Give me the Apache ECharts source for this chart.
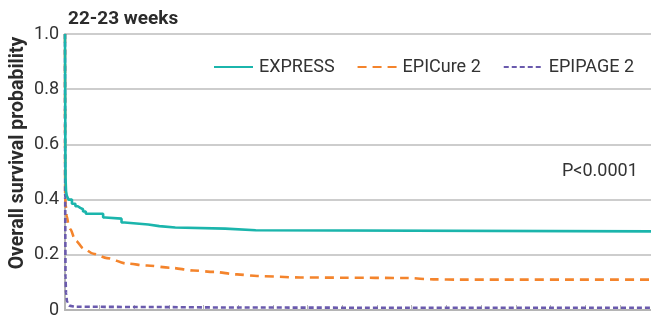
<!DOCTYPE html>
<html>
<head>
<meta charset="utf-8">
<script src="https://cdn.jsdelivr.net/npm/echarts@6/dist/echarts.min.js"></script>
<style>html,body{margin:0;padding:0;background:#fff}#c{width:651px;height:319px}</style>
</head>
<body>
<div id="c"></div>
<script>
var seriesNames = ['EXPRESS', 'EPICure 2', 'EPIPAGE 2'];
var yTicks = [0, 0.2, 0.4, 0.6, 0.8, 1.0];
var expressPts = [[0,1.0],[0.005,0.8],[0.01,0.6],[0.015,0.48],[0.03,0.43],[0.05,0.415],[0.1,0.40],[0.2,0.385],[0.3,0.376],[0.37,0.37],[0.44,0.365],[0.52,0.357],[0.6,0.349],[1.1,0.335],[1.16,0.331],[1.63,0.317],[1.72,0.310],[2.4,0.304],[2.72,0.299],[3.18,0.295],[4.62,0.289],[5.5,0.285],[16.9,0.285]];
var epicurePts = [[0,1.0],[0.005,0.41],[0.02,0.38],[0.05,0.34],[0.1,0.31],[0.15,0.294],[0.3,0.252],[0.54,0.222],[0.82,0.204],[1.21,0.188],[1.79,0.168],[2.37,0.161],[3.04,0.153],[3.71,0.143],[4.29,0.138],[4.96,0.129],[5.54,0.123],[6.79,0.118],[8.03,0.117],[9.86,0.116],[10.62,0.111],[11.4,0.110],[16.9,0.110]];
var epipagePts = [[0,1.0],[0.005,0.41],[0.01,0.25],[0.015,0.12],[0.03,0.06],[0.06,0.03],[0.12,0.016],[0.3,0.012],[2,0.011],[5,0.009],[10,0.008],[16.9,0.008]];
var colors = ['#1bb5ac', '#f4842c', '#6a5aad'];

var chart = echarts.init(document.getElementById('c'), null, {renderer:'canvas'});
var FONT = 'Roboto';
chart.setOption({
  animation: false,
  backgroundColor: '#fff',
  textStyle: {fontFamily: FONT},
  title: {text: '22-23 weeks', left: 63, top: 5, textStyle: {fontFamily: FONT, fontWeight: 'bold', fontSize: 19, color: '#2b2b2b'}},
  legend: {
    left: 208, top: 53, itemWidth: 39, itemHeight: 10, itemGap: 22,
    itemStyle: {opacity: 0},
    textStyle: {fontFamily: FONT, fontSize: 18, color: '#333', padding: [0,0,0,1]},
    data: seriesNames
  },
  graphic: [
    {type: 'text', left: 562, top: 162, style: {text: 'P<0.0001', font: '18px Roboto', fill: '#333'}},
    {type: 'text', x: 18, y: 153, rotation: Math.PI/2, style: {text: 'Overall survival probability', font: 'bold 19.5px Roboto', fill: '#2b2b2b', textAlign: 'center', textVerticalAlign: 'middle'}}
  ],
  grid: {left: 65, right: 0, top: 34, bottom: 8},
  xAxis: {
    type: 'value', min: 0, max: 16.9, interval: 1,
    axisLine: {show: true, lineStyle: {color: '#b5b5b5', width: 2}},
    axisTick: {show: true, inside: true, length: 5, lineStyle: {color: '#b5b5b5', width: 1}},
    axisLabel: {show: false},
    splitLine: {show: false}
  },
  yAxis: {
    type: 'value', min: 0, max: 1, interval: 0.2,
    axisLine: {show: true, lineStyle: {color: '#b5b5b5', width: 2}},
    axisTick: {show: false},
    axisLabel: {fontFamily: FONT, fontSize: 18, color: '#333', margin: 6,
      formatter: function(v){ return yTicks.indexOf(v) === 0 ? '0' : v.toFixed(1); }},
    splitLine: {show: true, lineStyle: {color: '#bdbdbd', width: 1.5}}
  },
  series: [
    {name: seriesNames[0], type: 'line', data: expressPts, step: 'end', showSymbol: false, symbol: 'none', z: 5,
      lineStyle: {color: colors[0], width: 2.6}, itemStyle: {color: colors[0]}},
    {name: seriesNames[1], type: 'line', data: epicurePts, smooth: 0.3, smoothMonotone: 'x', showSymbol: false, symbol: 'none', z: 3,
      lineStyle: {color: colors[1], width: 2.6, type: [9, 6]}, itemStyle: {color: colors[1]}},
    {name: seriesNames[2], type: 'line', data: epipagePts, smooth: 0.3, smoothMonotone: 'x', showSymbol: false, symbol: 'none', z: 4,
      lineStyle: {color: colors[2], width: 2.6, type: [5, 3]}, itemStyle: {color: colors[2]}}
  ]
});
</script>
</body>
</html>
